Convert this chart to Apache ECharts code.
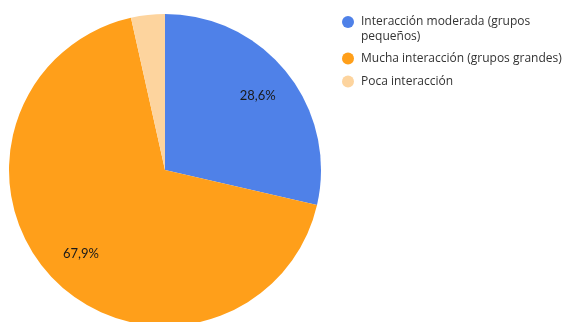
<!DOCTYPE html>
<html>
<head>
<meta charset="utf-8">
<script src="https://cdn.jsdelivr.net/npm/echarts@6/dist/echarts.min.js"></script>
<style>
  html, body { margin: 0; padding: 0; background: #fff; }
  #chart { width: 566px; height: 322px; }
</style>
</head>
<body>
<div id="chart"></div>
<script>
// Categories and shares (%)
const categories = [
  'Interacción moderada (grupos pequeños)',
  'Mucha interacción (grupos grandes)',
  'Poca interacción'
];
const shares = [28.6, 67.9, 3.5];
const colors = ['#4F81E8', '#FF9F1A', '#FDD49E'];

// Legend wording, wrapped where the long label breaks
const legendText = {
  'Interacción moderada (grupos pequeños)': 'Interacción moderada (grupos\npequeños)'
};

const LEGEND_FONT = '"Open Sans", Lato, sans-serif';
const LABEL_FONT = 'Lato, "Open Sans", sans-serif';
const CENTER = [165, 170];
const R = 156;

const pieData = categories.map((name, i) => ({
  name,
  value: shares[i],
  itemStyle: { color: colors[i] }
}));

const labelData = categories.map((name, i) => ({
  name,
  value: shares[i],
  label: { show: shares[i] >= 5 }
}));

const fmt = v => v.toFixed(1).replace('.', ',') + '%';

// One legend block per entry so each row sits at its own height
const legendTops = [-0.5, 51, 74];
const legends = categories.map((name, i) => ({
  data: [name],
  orient: 'vertical',
  left: 342,
  top: legendTops[i],
  padding: 0,
  itemWidth: 12,
  itemHeight: 12,
  icon: 'circle',
  selectedMode: false,
  formatter: n => legendText[n] ? '\n' + legendText[n] : n,
  textStyle: {
    fontFamily: LEGEND_FONT,
    fontSize: 12,
    lineHeight: 15,
    color: '#333',
    padding: [0, 0, 0, 2]
  }
}));

const chart = echarts.init(document.getElementById('chart'), null, { renderer: 'canvas' });
chart.setOption({
  animation: false,
  legend: legends,
  series: [
    {
      type: 'pie',
      center: CENTER,
      radius: [0, R],
      startAngle: 90,
      clockwise: true,
      avoidLabelOverlap: false,
      label: { show: false },
      labelLine: { show: false },
      itemStyle: { borderWidth: 0 },
      emphasis: { disabled: true },
      data: pieData
    },
    {
      // label ring: places the percentages at about three quarters of the radius
      type: 'pie',
      center: CENTER,
      radius: [75, R],
      startAngle: 90,
      clockwise: true,
      silent: true,
      avoidLabelOverlap: false,
      itemStyle: { color: 'rgba(0,0,0,0)', borderWidth: 0 },
      emphasis: { disabled: true },
      labelLine: { show: false },
      label: {
        position: 'inside',
        fontFamily: LABEL_FONT,
        fontSize: 13,
        color: '#1a1a1a',
        formatter: p => fmt(p.value)
      },
      data: labelData
    }
  ]
});
</script>
</body>
</html>
